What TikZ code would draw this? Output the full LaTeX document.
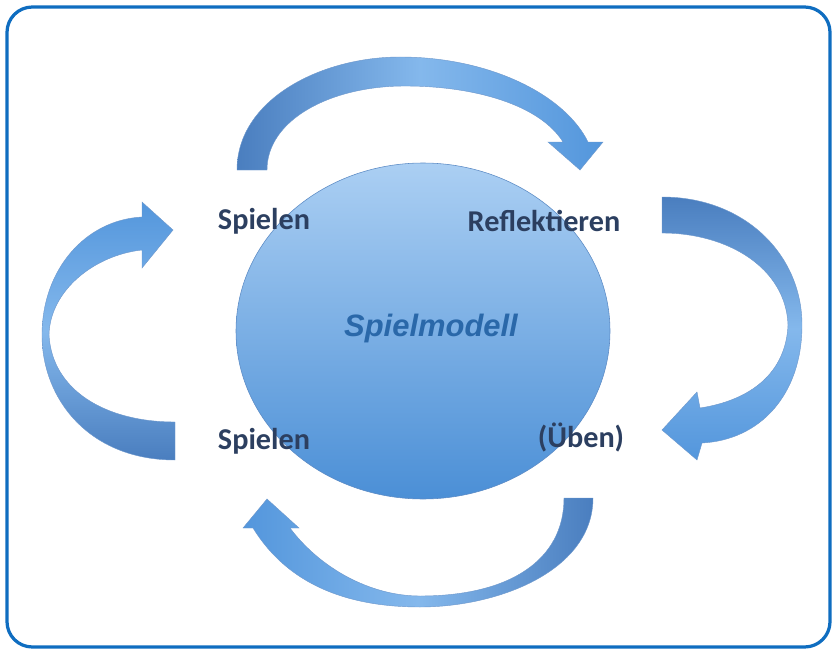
\documentclass[tikz,border=0pt]{standalone}
\usepackage{fontspec}
\setmainfont{Carlito}
\newfontfamily\modelfont{Liberation Sans}
\definecolor{frameblue}{HTML}{0F6DC0}
\definecolor{labelnavy}{HTML}{2C3F60}
\definecolor{modelblue}{HTML}{2A68A9}
\definecolor{ribbondark}{HTML}{4A7EBF}
\definecolor{ribbonlight}{HTML}{84B8EC}
\definecolor{ribbonmid}{HTML}{5396DC}
\definecolor{discTop}{HTML}{ABCFF3}
\definecolor{discBottom}{HTML}{4B8FD6}
\begin{document}
\begin{tikzpicture}[x=0.025cm,y=-0.025cm,
    stage/.style={font=\fontsize{21.5}{24}\selectfont\bfseries, text=labelnavy, inner sep=0pt},
    ribbon/.style={draw=ribbondark!80, line width=0.3pt}]
  \useasboundingbox (0,0) rectangle (836,650);
  \draw[frameblue, line width=2.3pt, rounded corners=18pt] (7,7) rectangle (830,647);
  % Kreis in der Mitte
  \path[top color=discTop, bottom color=discBottom, draw=ribbondark!90, line width=0.4pt]
    (423,331) ellipse [x radius=187, y radius=168];
  \node[font=\modelfont\fontsize{22}{26}\selectfont\bfseries\itshape, text=modelblue] (modell) at (431,328) {Spielmodell};
  \node[stage] (spielenA) at (264,221) {Spielen};
  \node[stage] (reflekt) at (544,221) {Reflektieren};
  \node[stage] (spielenB) at (264,441) {Spielen};
  \node[stage] (ueben) at (581,437) {(Üben)};
  % oben: Spielen -> Reflektieren
  \path[ribbon, left color=ribbondark, right color=ribbonmid, middle color=ribbonlight]
    (237,170) .. controls (237,100) and (320,57) .. (400,57)
    .. controls (490,57) and (565,95) .. (588,142) -- (603,142) -- (580,170) -- (548,142) -- (563,142)
    .. controls (540,105) and (475,86) .. (405,86)
    .. controls (330,86) and (267,120) .. (267,170) -- cycle;
  % rechts: Reflektieren -> (Üben)
  \path[ribbon, top color=ribbondark, bottom color=ribbonmid, middle color=ribbonlight]
    (662,197) .. controls (745,197) and (802,255) .. (802,325)
    .. controls (802,395) and (760,440) .. (702,443) -- (697,460) -- (662,430) -- (697,392) -- (700,408)
    .. controls (752,400) and (786,372) .. (788,325)
    .. controls (786,268) and (728,233) .. (662,233) -- cycle;
  % unten: (Üben) -> Spielen
  \path[ribbon, right color=ribbondark, left color=ribbonmid, middle color=ribbonlight]
    (593,498) .. controls (593,570) and (500,607) .. (420,607)
    .. controls (340,607) and (285,580) .. (253,528) -- (243,528) -- (267,499) -- (299,528) -- (290,528)
    .. controls (320,568) and (370,596) .. (420,596)
    .. controls (510,596) and (564,560) .. (564,498) -- cycle;
  % links: Spielen -> Spielen
  \path[ribbon, bottom color=ribbondark, top color=ribbonmid, middle color=ribbonlight]
    (175,460) .. controls (90,460) and (42,400) .. (42,335)
    .. controls (42,270) and (85,220) .. (142,217) -- (142,202) -- (173,230) -- (142,268) -- (142,250)
    .. controls (95,255) and (50,290) .. (49,335)
    .. controls (52,390) and (105,422) .. (175,422) -- cycle;
\end{tikzpicture}
\end{document}
